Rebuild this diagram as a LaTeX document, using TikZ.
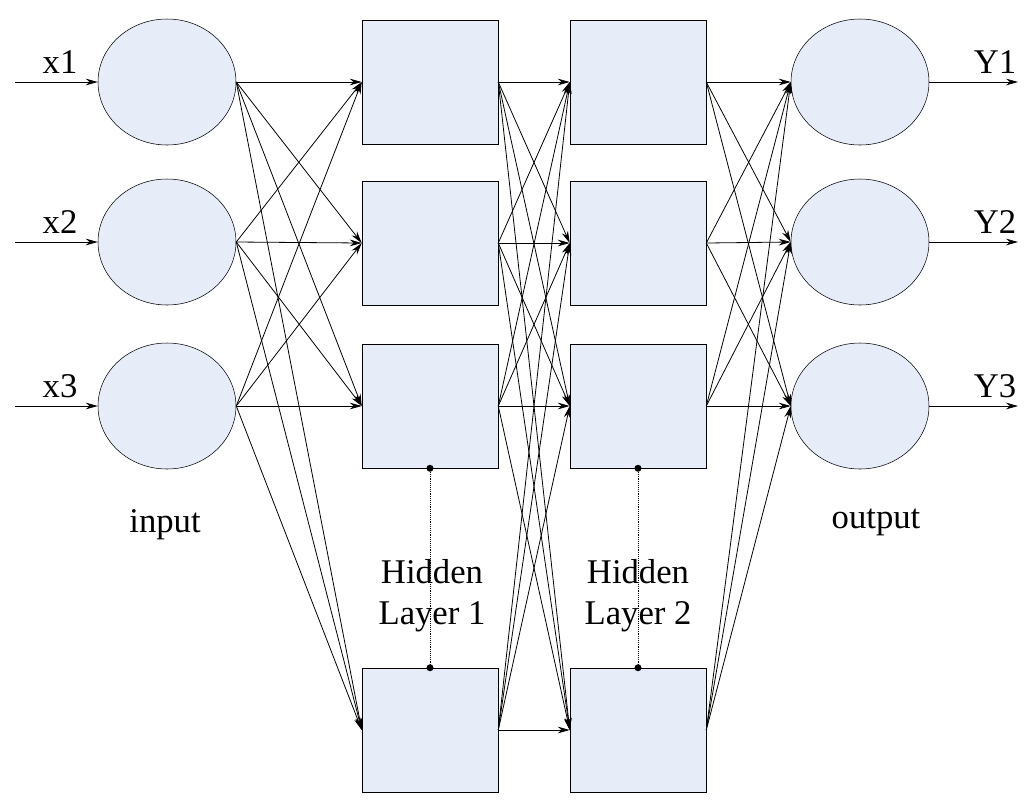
\documentclass[tikz,border=0pt]{standalone}
\usepackage{fontspec}
\setmainfont{Liberation Serif}
\usetikzlibrary{shapes.geometric,arrows.meta}
\definecolor{cellfill}{RGB}{230,236,248}
\begin{document}
\begin{tikzpicture}[x=0.75pt,y=-0.75pt,
  neuron/.style={ellipse,draw,fill=cellfill,minimum width=103.5pt,minimum height=94.5pt,inner sep=0pt},
  cell/.style={rectangle,draw,fill=cellfill,minimum width=102pt,minimum height=93pt,inner sep=0pt},
  link/.style={-{Stealth[length=9pt,width=5pt]},line width=0.6pt},
  lab/.style={font=\fontsize{26}{31}\selectfont,align=center}]
\useasboundingbox (0,0) rectangle (1024,808);
% input and output layers
\foreach \i/\y in {1/82,2/242,3/406}{
  \node[neuron] (in\i) at (167,\y) {};
  \node[neuron] (out\i) at (860,\y) {};
  \coordinate (s\i) at (15,\y);
  \coordinate (e\i) at (1018,\y);
  \draw[link] (s\i) -- (in\i.west);
  \draw[link] (out\i.east) -- (e\i);
  \node[lab] at (60,62+\y-82) {x\i};
  \node[lab] at (995,62+\y-82) {Y\i};
}
% hidden layers
\foreach \j/\y in {1/82,2/243,3/406,4/730}{
  \node[cell] (ha\j) at (430,\y) {};
  \node[cell] (hb\j) at (638,\y) {};
}
% connections
\foreach \i in {1,2,3}{
  \foreach \j in {1,2,3,4}{
    \draw[link] (in\i.east) -- (ha\j.west);
    \draw[link] (hb\j.east) -- (out\i.west);
  }
}
\foreach \i in {1,2,3,4}{
  \foreach \j in {1,2,3,4}{
    \draw[link] (ha\i.east) -- (hb\j.west);
  }
}
% dotted layer markers
\draw[densely dotted] (ha3.south) -- (ha4.north);
\draw[densely dotted] (hb3.south) -- (hb4.north);
\foreach \n in {ha3.south,ha4.north,hb3.south,hb4.north}
  \fill (\n) circle (3.5);
\node[lab] at (165,525) {input};
\node[lab] at (876,522) {output};
\node[lab] at (432,596) {Hidden\\Layer 1};
\node[lab] at (638,596) {Hidden\\Layer 2};
\end{tikzpicture}
\end{document}
